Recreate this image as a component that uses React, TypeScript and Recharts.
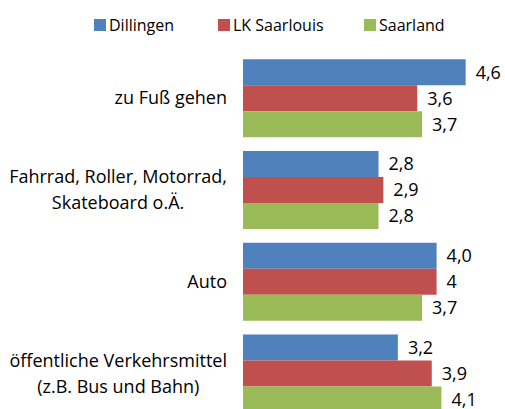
import React from "react";
import { BarChart, Bar, XAxis, YAxis, Legend, LabelList } from "recharts";

const categories = [
  ["zu Fuß gehen"],
  ["Fahrrad, Roller, Motorrad,", "Skateboard o.Ä."],
  ["Auto"],
  ["öffentliche Verkehrsmittel", "(z.B. Bus und Bahn)"],
];
const dillingen = [4.6, 2.8, 4.0, 3.2];
const lkSaarlouis = [3.6, 2.9, 4.0, 3.9];
const saarland = [3.7, 2.8, 3.7, 4.1];
const dillingenLabels = ["4,6", "2,8", "4,0", "3,2"];
const lkSaarlouisLabels = ["3,6", "2,9", "4", "3,9"];
const saarlandLabels = ["3,7", "2,8", "3,7", "4,1"];

const series = [
  { key: "d", name: "Dillingen", color: "#4F81BD", w: 124 },
  { key: "l", name: "LK Saarlouis", color: "#C0504D", w: 146 },
  { key: "s", name: "Saarland", color: "#9BBB59", w: 120 },
];

const data = categories.map((c, i) => ({
  name: c.join("\n"),
  d: dillingen[i],
  l: lkSaarlouis[i],
  s: saarland[i],
  dLabel: dillingenLabels[i],
  lLabel: lkSaarlouisLabels[i],
  sLabel: saarlandLabels[i],
}));

const FONT = "'Open Sans', sans-serif";
const LABEL_SIZE = 18;

let ctx: CanvasRenderingContext2D | null = null;
function textWidth(t: string) {
  if (!ctx) ctx = document.createElement("canvas").getContext("2d");
  if (!ctx) return t.length * 8;
  ctx.font = `${LABEL_SIZE}px 'Open Sans'`;
  return ctx.measureText(t).width;
}

const CategoryTick = (props: any) => {
  const { x, y, payload } = props;
  const lines: string[] = String(payload.value).split("\n");
  const lineH = 26;
  const maxW = Math.max(...lines.map(textWidth));
  const cx = x - maxW / 2;
  const y0 = y - ((lines.length - 1) * lineH) / 2;
  return (
    <g>
      {lines.map((ln, i) => (
        <text
          key={i}
          x={lines.length > 1 ? cx : x}
          y={y0 + i * lineH}
          dy="0.36em"
          textAnchor={lines.length > 1 ? "middle" : "end"}
          fontFamily={FONT}
          fontSize={LABEL_SIZE}
          fill="#000"
        >
          {ln}
        </text>
      ))}
    </g>
  );
};

const LegendContent = () => (
  <div
    style={{
      height: 40,
      display: "flex",
      alignItems: "flex-start",
      paddingLeft: 94,
      paddingTop: 2,
      boxSizing: "border-box",
      fontFamily: FONT,
      fontSize: 16,
      color: "#000",
    }}
  >
    {series.map((s) => (
      <div key={s.key} style={{ display: "flex", alignItems: "center", width: s.w, flex: "none" }}>
        <span style={{ width: 12, height: 12, background: s.color, marginRight: 3 }} />
        <span>{s.name}</span>
      </div>
    ))}
  </div>
);

export default function App() {
  return (
    <div style={{ position: "absolute", left: 0, top: 0, width: 505, height: 409, overflow: "hidden", background: "#fff" }}>
      <BarChart
        width={505}
        height={425}
        data={data}
        layout="vertical"
        margin={{ top: 12, right: 20, bottom: 6, left: 0 }}
        barCategoryGap="8%"
        barGap={0}
      >
        <Legend verticalAlign="top" content={<LegendContent />} />
        <XAxis type="number" domain={[0, 5]} hide />
        <YAxis
          type="category"
          dataKey="name"
          width={243}
          axisLine={false}
          tickLine={false}
          tickSize={0}
          tickMargin={16}
          tick={<CategoryTick />}
          interval={0}
        />
        {series.map((s) => (
          <Bar key={s.key} dataKey={s.key} name={s.name} fill={s.color} isAnimationActive={false}>
            <LabelList
              dataKey={`${s.key}Label`}
              position="right"
              offset={10}
              fontFamily={FONT}
              fontSize={LABEL_SIZE}
              fill="#000"
            />
          </Bar>
        ))}
      </BarChart>
    </div>
  );
}
